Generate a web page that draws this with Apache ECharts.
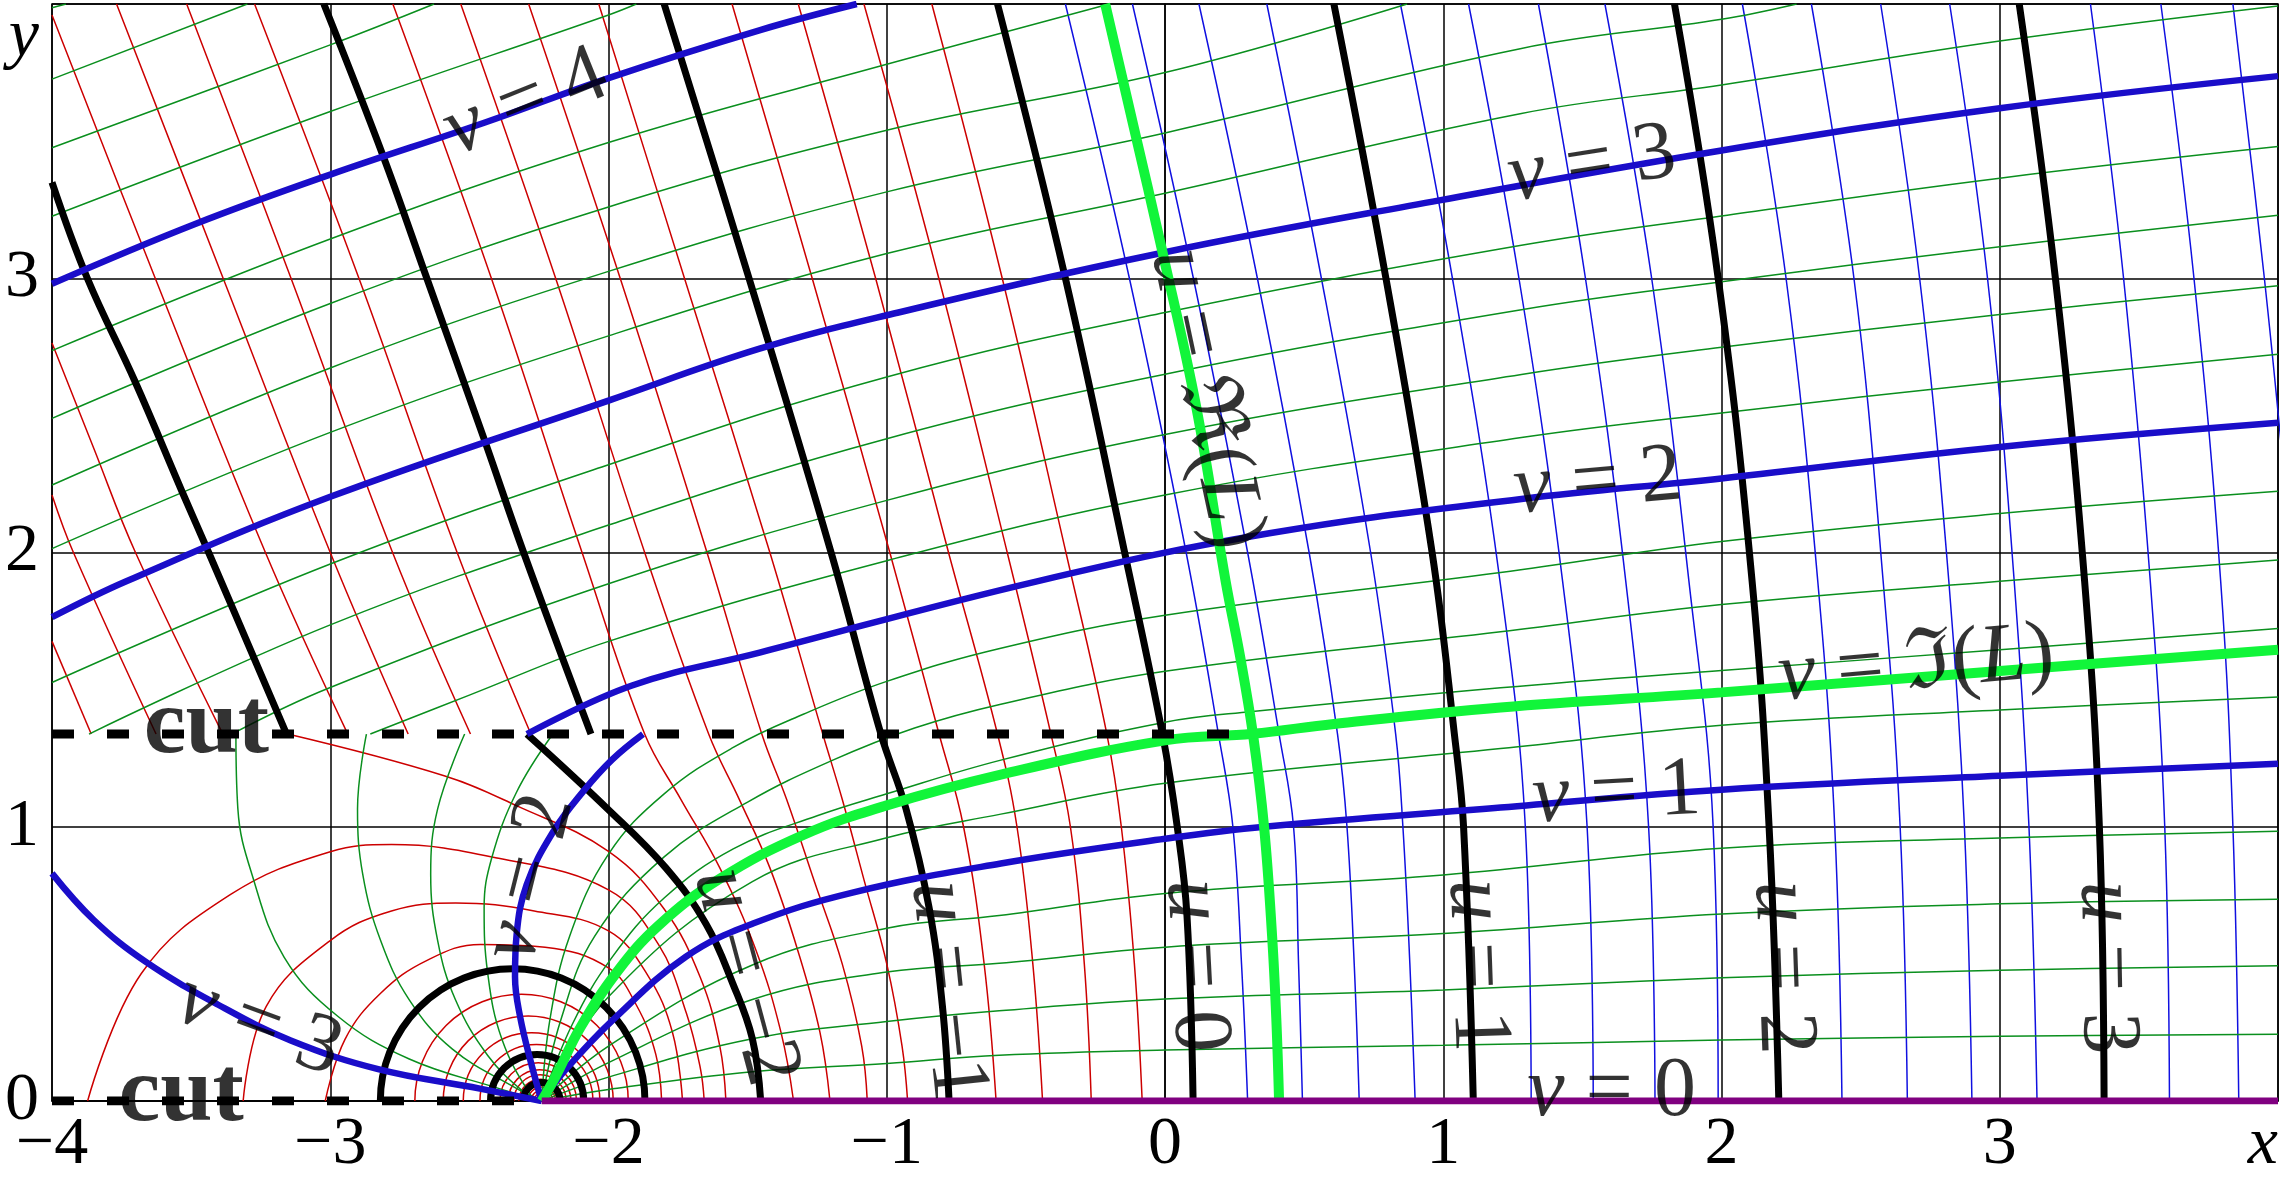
<!DOCTYPE html>
<html><head><meta charset="utf-8">
<script src="https://cdn.jsdelivr.net/npm/echarts@6/dist/echarts.min.js"></script>
<style>html,body{margin:0;padding:0;background:#fff}#c{width:2281px;height:1179px}</style>
</head><body><div id="c"></div>
<script>
// ---------- tick labels ----------
const xTickLabels = ['\u22124','\u22123','\u22122','\u22121','0','1','2','3','x'];
const yTickLabels = ['0','1','2','3','y'];

// ---------- integer u-lines (black, thick) ----------
const uBlack = [
  [[-4,3.35],[-3.873,3],[-3.70,2.62],[-3.53,2.216],[-3.437,2.0],[-3.157,1.338]],
  [[-3.023,4],[-2.81,3.446],[-2.653,3.0],[-2.444,2.405],[-2.305,2.0],[-2.063,1.338]],
  [[-2.293,1.338],[-2.004,1.066],[-1.794,0.85],[-1.65,0.646],[-1.554,0.43],[-1.483,0.227],[-1.453,0]],
  [[-1.80,4],[-1.495,3.0],[-1.20,2.0],[-1.021,1.338],[-0.931,1.066],[-0.848,0.706],[-0.80,0.347],[-0.776,0]],
  [[-0.602,4],[-0.358,3],[-0.145,2],[-0.009,1.338],[0.044,1.0],[0.079,0.676],[0.101,0]],
  [[0.607,4],[0.794,3],[0.96,2],[1.04,1.338],[1.073,1.0],[1.108,0]],
  [[1.831,4],[1.988,3],[2.11,1.895],[2.171,1.0],[2.206,0]],
  [[3.07,4],[3.20,3],[3.305,1.895],[3.358,1.0],[3.375,0]]
];
// closed u-circles round the singular point: [left crossing, right crossing]
const uBlackCircles = [[-2.82,-1.869],[-2.424,-2.089],[-2.307,-2.174]];
const uRedCircles = [[-2.696,-1.929],[-2.594,-1.983],[-2.522,-2.031],[-2.462,-2.056],
  [-2.39,-2.115],[-2.36,-2.135],[-2.34,-2.152],[-2.322,-2.165],[-2.29,-2.19],[-2.278,-2.2],[-2.268,-2.21]];

// ---------- thin u-lines, u<0 (red) ----------
const redThin = [
  [[-4,1.676],[-3.859,1.338]],
  [[-4,2.21],[-3.923,2.0],[-3.626,1.338]],
  [[-4,2.764],[-3.85,2.38],[-3.70,2.0],[-3.386,1.338]],
  [[-4.0,3.96],[-3.629,3],[-3.233,2],[-2.937,1.338]],
  [[-3.768,4],[-3.385,3],[-3.0,2],[-2.72,1.338]],
  [[-3.516,4],[-3.141,3],[-2.776,2],[-2.496,1.338]],
  [[-3.272,4],[-2.897,3],[-2.544,2],[-2.279,1.338]],
  [[-2.775,4],[-2.421,3],[-2.095,2],[-1.87,1.338],[-1.74,1.1],[-1.60,0.85],[-1.47,0.55],[-1.38,0.25],[-1.335,0]],
  [[-2.531,4],[-2.190,3],[-1.87,2],[-1.64,1.338],[-1.53,1.1],[-1.42,0.85],[-1.32,0.55],[-1.24,0.25],[-1.204,0]],
  [[-2.287,4],[-1.958,3],[-1.646,2],[-1.449,1.338],[-1.36,1.1],[-1.26,0.8],[-1.16,0.5],[-1.09,0.2],[-1.07,0]],
  [[-2.035,4],[-1.727,3],[-1.42,2],[-1.23,1.338],[-1.16,1.1],[-1.08,0.8],[-1.0,0.5],[-0.945,0.2],[-0.925,0]],
  [[-1.556,4],[-1.268,3],[-0.989,2],[-0.812,1.338],[-0.724,1],[-0.65,0.5],[-0.607,0]],
  [[-1.318,4],[-1.04,3],[-0.778,2],[-0.602,1.338],[-0.532,1],[-0.475,0.5],[-0.44,0]],
  [[-1.082,4],[-0.813,3],[-0.567,2],[-0.41,1.338],[-0.34,1],[-0.29,0.5],[-0.265,0]],
  [[-0.838,4],[-0.585,3],[-0.356,2],[-0.209,1.338],[-0.157,1],[-0.11,0.5],[-0.082,0]]
];
const redArcs = [
  [[-3.153,1.338],[-2.588,1.185],[-2.331,1.077],[-2.0,0.91],[-1.8,0.70],[-1.67,0.45],[-1.60,0.2],[-1.578,0]],
  [[-3.872,0],[-3.679,0.465],[-3.358,0.753],[-3.0,0.909],[-2.78,0.935],[-2.395,0.885],[-2.0,0.77],[-1.82,0.57],[-1.72,0.32],[-1.67,0.12],[-1.656,0]],
  [[-3.313,0],[-3.23,0.345],[-3.0,0.585],[-2.78,0.693],[-2.549,0.722],[-2.267,0.693],[-2.0,0.62],[-1.86,0.46],[-1.77,0.25],[-1.734,0]],
  [[-3.018,0],[-2.947,0.225],[-2.819,0.393],[-2.652,0.513],[-2.46,0.571],[-2.228,0.561],[-2.0,0.485],[-1.9,0.35],[-1.83,0.17],[-1.809,0]]
];
// ---------- thin u-lines, u>0 (blue) ----------
const blueThin = [
  [[-0.358,4],[-0.128,3],[0.076,2],[0.192,1.338],[0.244,1],[0.275,0.5],[0.297,0]],
  [[-0.117,4],[0.102,3],[0.297,2],[0.41,1.338],[0.462,1],[0.48,0.5],[0.494,0]],
  [[0.122,4],[0.332,3],[0.518,2],[0.62,1.338],[0.654,1],[0.68,0.5],[0.698,0]],
  [[0.366,4],[0.562,3],[0.739,2],[0.829,1.338],[0.855,1],[0.88,0.5],[0.899,0]],
  [[0.846,4],[1.033,3],[1.204,1.895],[1.295,1],[1.316,0]],
  [[1.091,4],[1.272,3],[1.429,1.895],[1.517,1],[1.539,0]],
  [[1.342,4],[1.511,3],[1.656,1.895],[1.738,1],[1.761,0]],
  [[1.581,4],[1.749,3],[1.883,1.895],[1.97,1],[1.988,0]],
  [[2.075,4],[2.232,3],[2.346,1.895],[2.407,1],[2.433,0]],
  [[2.323,4],[2.476,3],[2.581,1.895],[2.642,1],[2.668,0]],
  [[2.572,4],[2.712,3],[2.817,1.895],[2.873,1],[2.90,0]],
  [[2.82,4],[2.956,3],[3.052,1.895],[3.105,1],[3.134,0]],
  [[3.326,4],[3.445,3],[3.541,1.895],[3.593,1],[3.61,0]],
  [[3.579,4],[3.698,3],[3.794,1.895],[3.838,1],[3.859,0]],
  [[3.838,4],[3.951,3],[4.02,2.3]]
];

// ---------- integer v-lines (blue, thick) ----------
const vBlue = [
  [[-4,2.98],[-3.49,3.196],[-3,3.378],[-2.444,3.568],[-2,3.73],[-1.455,3.905],[-1.108,4.0]],
  [[-4,1.764],[-3.733,1.895],[-3,2.203],[-2,2.554],[-1.457,2.743],[-1,2.865],[0,3.095],[0.986,3.284],[2,3.466],[3,3.62],[4,3.737]],
  [[-2.293,1.338],[-1.918,1.514],[-1.457,1.635],[-0.46,1.895],[0.375,2.07],[1.281,2.195],[2,2.27],[3,2.385],[4,2.473]],
  [[-2.24,0],[-2.151,0.118],[-1.983,0.297],[-1.722,0.526],[-1.483,0.646],[-1.123,0.76],[-0.59,0.866],[0,0.956],[0.358,1.0],[1.206,1.07],[2,1.135],[3,1.186],[4,1.23]],
  [[-2.24,0],[-2.276,0.13],[-2.318,0.309],[-2.336,0.453],[-2.33,0.609],[-2.294,0.789],[-2.2,0.98],[-2.09,1.13],[-1.987,1.245],[-1.876,1.338]],
  [[-4,0.83],[-3.85,0.66],[-3.664,0.508],[-3.403,0.351],[-3.142,0.221],[-2.828,0.116],[-2.462,0.045],[-2.24,0]]
];
// ---------- u = Re(L), v = Im(L) (bright green) ----------
const reL = [[-0.215,4],[-0.113,3.554],[-0.009,3.095],[0.113,2.527],[0.218,1.895],[0.27,1.62],[0.316,1.338],[0.356,1.0],[0.385,0.6],[0.40,0.3],[0.41,0]];
const imL = [[-2.24,0],[-2.19,0.09],[-2.10,0.27],[-1.97,0.47],[-1.82,0.64],[-1.60,0.81],[-1.30,0.97],[-1.00,1.078],[-0.59,1.19],[0,1.315],[0.316,1.339],[0.607,1.375],[1.206,1.435],[2,1.49],[3,1.568],[4,1.645]];

// ---------- thin v-lines (green) ----------
const greenThin = [
  [[-2.24,0],[-2.0,0.042],[-1.483,0.107],[-1,0.137],[-0.596,0.167],[0,0.186],[1,0.203],[2,0.222],[3,0.236],[4,0.243]],
  [[-2.24,0],[-2.0,0.087],[-1.483,0.227],[-1,0.29],[-0.596,0.329],[0,0.372],[1,0.405],[2,0.449],[3,0.477],[4,0.493]],
  [[-2.24,0],[-2.0,0.14],[-1.483,0.37],[-1,0.47],[-0.596,0.502],[0,0.561],[1,0.611],[2,0.682],[3,0.719],[4,0.736]],
  [[-2.24,0],[-2.0,0.20],[-1.483,0.496],[-1,0.63],[-0.596,0.676],[0,0.757],[1,0.824],[2,0.922],[3,0.959],[4,0.984]],
  [[-2.24,0],[-2.0,0.38],[-1.483,0.80],[-1,0.96],[-0.59,1.046],[0,1.159],[1.206,1.285],[2,1.37],[3,1.426],[4,1.473]],
  [[-2.24,0],[-2.13,0.28],[-1.99,0.52],[-1.80,0.74],[-1.55,0.92],[-1.25,1.04],[-1.0,1.12],[-0.59,1.243],[0,1.381],[0.314,1.42],[1.206,1.507],[2,1.57],[3,1.645],[4,1.723]],
  [[-2.24,0],[-2.17,0.3],[-2.05,0.6],[-1.80,0.89],[-1.50,1.09],[-1.2,1.24],[-0.9,1.36],[-0.59,1.447],[0,1.567],[1.206,1.711],[2,1.81],[3,1.895],[4,1.973]],
  [[-2.24,0],[-2.21,0.3],[-2.14,0.6],[-2.0,0.9],[-1.8,1.12],[-1.55,1.29],[-1.3,1.41],[-1.0,1.53],[-0.59,1.651],[0,1.771],[1.206,1.927],[2,2.04],[3,2.142],[4,2.223]],
  [[-2.856,1.338],[-2.5,1.48],[-2,1.676],[-1,1.97],[0,2.21],[1.281,2.419],[2,2.509],[3,2.622],[4,2.723]],
  [[-3.354,1.338],[-3,1.508],[-2,1.886],[-1,2.19],[0,2.43],[1.281,2.649],[2,2.748],[3,2.868],[4,2.973]],
  [[-3.867,1.338],[-3,1.736],[-2,2.10],[-1,2.415],[0,2.65],[1.281,2.885],[2,2.987],[3,3.115],[4,3.23]],
  [[-4,1.526],[-3,1.958],[-2,2.32],[-1,2.64],[0,2.875],[1.281,3.12],[2,3.227],[3,3.365],[4,3.48]],
  [[-4,2.014],[-3,2.438],[-2,2.79],[-1,3.09],[0,3.31],[1.281,3.601],[2,3.705],[3,3.865],[4,3.993]],
  [[-4,2.246],[-3,2.673],[-2,3.025],[-1,3.315],[0,3.53],[1.281,3.838],[2,3.944],[2.27,4.0]],
  [[-4,2.489],[-3,2.908],[-2,3.26],[-1,3.54],[0,3.75],[0.87,4.0]],
  [[-4,2.736],[-3,3.143],[-2,3.495],[-1,3.78],[-0.2,4.0]],
  [[-4,3.226],[-3,3.608],[-2,3.96],[-1.90,4.0]],
  [[-4,3.476],[-3,3.851],[-2.627,4.0]],
  [[-4,3.726],[-3.298,4.0]],
  [[-4,3.986],[-3.95,4.0]]
];
const greenArcs = [
  [[-2.2,1.338],[-2.331,1.125],[-2.42,0.885],[-2.447,0.705],[-2.434,0.465],[-2.383,0.225],[-2.28,0.022],[-2.24,0]],
  [[-2.517,1.338],[-2.614,1.065],[-2.639,0.825],[-2.614,0.585],[-2.55,0.369],[-2.434,0.166],[-2.306,0.034],[-2.24,0]],
  [[-2.87,1.338],[-2.902,1.065],[-2.883,0.825],[-2.819,0.585],[-2.716,0.369],[-2.562,0.19],[-2.331,0.046],[-2.24,0]],
  [[-3.339,1.338],[-3.332,1.065],[-3.281,0.825],[-3.166,0.525],[-2.973,0.309],[-2.716,0.153],[-2.395,0.046],[-2.24,0]]
];

// ---------- v = 0 and cuts ----------
const vZero = [[-2.24,0],[4,0]];
const cutUpper = [[-4,1.338],[0.316,1.338]];
const cutLower = [[-4,0],[-2.24,0]];

// ---------- annotation texts ----------
const curveLabels = [
  {t:'{i|v}{n| = 4}', x:-2.297, y:3.637, r:22},
  {t:'{i|v}{n| = 3}', x:1.535, y:3.41, r:9},
  {t:'{i|v}{n| = 2}', x:1.556, y:2.252, r:5},
  {t:'{i|v}{n| = \u2111(}{i|L}{n|)}', x:2.70, y:1.587, r:5},
  {t:'{i|v}{n| = 1}', x:1.623, y:1.115, r:3},
  {t:'{i|v}{n| = 0}', x:1.605, y:0.03, r:0},
  {t:'{i|u}{n| = \u211C(}{i|L}{n|)}', x:0.147, y:2.56, r:-78},
  {t:'{i|u}{n| = \u22121}', x:-0.784, y:0.40, r:-84},
  {t:'{i|u}{n| = 0}', x:0.107, y:0.493, r:-87},
  {t:'{i|u}{n| = 1}', x:1.117, y:0.493, r:-88},
  {t:'{i|u}{n| = 2}', x:2.216, y:0.486, r:-88},
  {t:'{i|u}{n| = 3}', x:3.38, y:0.486, r:-89},
  {t:'{i|u}{n| = \u22122}', x:-1.51, y:0.453, r:-75},
  {t:'{i|v}{n| = 2}', x:-2.282, y:0.813, r:76},
  {t:'{i|v}{n| = 3}', x:-3.256, y:0.273, r:-20},
  {t:'{b|cut}', x:-3.445, y:1.36, r:0},
  {t:'{b|cut}', x:-3.536, y:0.02, r:0}
];

// ---------- styles ----------
const F = "'Liberation Serif','DejaVu Serif',serif";
const C = {red:'#cc0000', blueThin:'#1010e0', green:'#0a8f1e', blue:'#1a0dc9', lime:'#11f53a', purple:'#800080', black:'#000'};

const series = [];
function addLine(pts, color, width, z, smooth) {
  series.push({type:'line', data:pts, symbol:'none', showSymbol:false, smooth: smooth === undefined ? 0.4 : smooth,
    lineStyle:{color:color, width:width}, z:z, silent:true, animation:false, clip:true});
}
redThin.forEach(p => addLine(p, C.red, 1.5, 2));
redArcs.forEach(p => addLine(p, C.red, 1.5, 2));
blueThin.forEach(p => addLine(p, C.blueThin, 1.5, 2));
greenThin.forEach(p => addLine(p, C.green, 1.5, 2));
greenArcs.forEach(p => addLine(p, C.green, 1.5, 2));

function circleSeries(data, color, width, z) {
  return {type:'custom', data:data, z:z, silent:true, animation:false, clip:true,
    renderItem:function(params, api){
      const l = api.value(0), r = api.value(1);
      const c = api.coord([(l + r) / 2, 0]);
      const e = api.coord([r, 0]);
      return {type:'arc', shape:{cx:c[0], cy:c[1], r:e[0]-c[0], startAngle:Math.PI, endAngle:2*Math.PI},
        style:{stroke:color, lineWidth:width, fill:null}};
    }};
}
series.push(circleSeries(uRedCircles, C.red, 1.5, 2));
series.push(circleSeries(uBlackCircles, C.black, 7, 5));

uBlack.forEach(p => addLine(p, C.black, 7, 5));
vBlue.forEach(p => addLine(p, C.blue, 6.5, 5));
addLine(reL, C.lime, 10, 6);
addLine(imL, C.lime, 10, 6);
addLine(vZero, C.purple, 7, 7, false);
[cutUpper, cutLower].forEach(p => series.push({type:'line', data:p, symbol:'none', z:8, silent:true, animation:false,
  lineStyle:{color:'#000', width:9, type:[22,33], cap:'butt'}}));

const rich = {
  i:{fontFamily:F, fontStyle:'italic', fontSize:84, color:'#000'},
  n:{fontFamily:F, fontSize:84, color:'#000'},
  b:{fontFamily:F, fontWeight:'bold', fontSize:94, color:'#000'}
};
series.push({type:'scatter', symbolSize:0, z:20, silent:true, animation:false, clip:false,
  data: curveLabels.map(l => ({value:[l.x, l.y], label:{show:true, position:'inside', formatter:l.t, rotate:l.r, rich:rich}}))});

const chart = echarts.init(document.getElementById('c'), null, {renderer:'canvas'});
chart.setOption({
  animation:false,
  backgroundColor:'#fff',
  grid:{left:52, right:3, top:4, bottom:63, show:true, borderColor:'#000', borderWidth:1.5},
  xAxis:{type:'value', min:-4, max:4, interval:1,
    axisLine:{show:true, lineStyle:{color:'#000', width:1.5}}, axisTick:{show:false},
    splitLine:{show:true, lineStyle:{color:'#000', width:1.5}},
    axisLabel:{margin:10, color:'#000', fontFamily:F, fontSize:68, alignMaxLabel:'right',
      formatter:function(v){ const s = xTickLabels[Math.round(v)+4]; return s === 'x' ? '{i|x}' : s; },
      rich:{i:{fontFamily:F, fontStyle:'italic', fontSize:68, color:'#000'}}}},
  yAxis:{type:'value', min:0, max:4, interval:1,
    axisLine:{show:true, lineStyle:{color:'#000', width:1.5}}, axisTick:{show:false},
    splitLine:{show:true, lineStyle:{color:'#000', width:1.5}},
    axisLabel:{margin:13, color:'#000', fontFamily:F, fontSize:68, verticalAlignMaxLabel:'top',
      formatter:function(v){ const s = yTickLabels[Math.round(v)]; return s === 'y' ? '{i|y}' : s; },
      rich:{i:{fontFamily:F, fontStyle:'italic', fontSize:68, color:'#000'}}}},
  series:series
});
</script></body></html>
